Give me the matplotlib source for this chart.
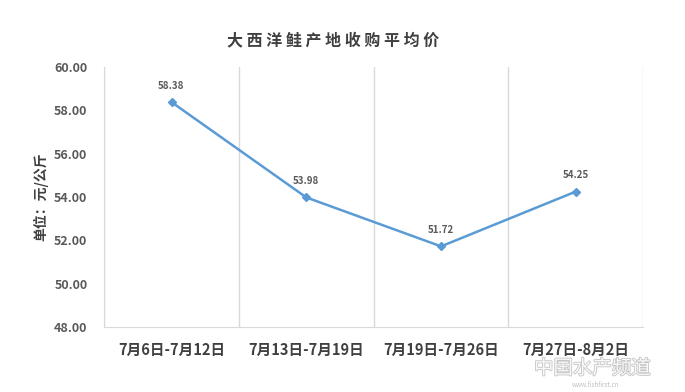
import matplotlib
matplotlib.use('Agg')
import matplotlib.pyplot as plt
import matplotlib.patheffects as pe
import numpy as np

plt.rcParams['font.family'] = ['Noto Sans CJK SC', 'DejaVu Sans']

categories = ['7月6日-7月12日', '7月13日-7月19日', '7月19日-7月26日', '7月27日-8月2日']
prices = [58.38, 53.98, 51.72, 54.25]
yticks = [48, 50, 52, 54, 56, 58, 60]

fig = plt.figure(figsize=(6.85, 3.92), dpi=100)
ax = fig.add_axes([0.152, 0.166, 0.787, 0.663])

x = np.arange(len(categories))
ax.plot(x, prices, color='#5B9BD5', lw=1.8, marker='D', ms=4.5, zorder=3)
for xi, v in zip(x, prices):
    ax.annotate(f'{v:.2f}', (xi, v), xytext=(0, 8), textcoords='offset points',
                ha='center', va='bottom', fontsize=7, color='#595959', fontweight='bold')

ax.set_xlim(-0.5, len(categories) - 0.5)
ax.set_ylim(48, 60)
ax.set_yticks(yticks)
ax.set_yticklabels([f'{t:.2f}' for t in yticks], fontsize=9, color='#595959', fontweight='bold')
ax.set_xticks(x)
ax.set_xticklabels(categories, fontsize=10.5, color='#404040', fontweight='bold')
ax.set_xticks(np.arange(-0.5, len(categories)), minor=True)
ax.grid(which='minor', axis='x', color='#D9D9D9', lw=1)
ax.tick_params(which='both', length=0)
ax.tick_params(axis='x', pad=11)
ax.tick_params(axis='y', pad=12)

for s in ['top', 'right']:
    ax.spines[s].set_visible(False)
for s in ['left', 'bottom']:
    ax.spines[s].set_color('#D9D9D9')

ax.set_ylabel('单位：元/公斤', fontsize=10, color='#404040', fontweight='bold', labelpad=4)
fig.text(0.487, 0.897, ' '.join('大西洋鲑产地收购平均价'),
         ha='center', va='center', fontsize=11.5, color='#404040', fontweight='bold')

# watermark
fig.text(0.865, 0.06, '中国水产频道', ha='center', va='center', fontsize=14,
         color='white', alpha=0.9,
         path_effects=[pe.withStroke(linewidth=1.2, foreground='#BFBFBF')])
fig.text(0.87, 0.018, 'www.fishfirst.cn', ha='center', va='center', fontsize=4.5, color='#BFBFBF')

fig.savefig('out.png', dpi=100)
